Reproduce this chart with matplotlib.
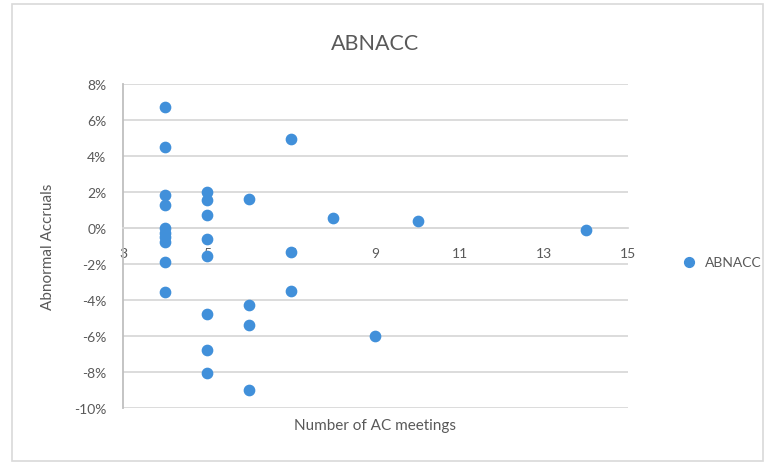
import numpy as np
import matplotlib.pyplot as plt
from matplotlib.patches import Rectangle
from matplotlib.ticker import FuncFormatter

# number of AC meetings and abnormal accruals (in %)
meetings = [4, 4, 4, 4, 4, 4, 4, 4, 4, 4,
            5, 5, 5, 5, 5, 5, 5, 5,
            6, 6, 6, 6,
            7, 7, 7,
            8, 9, 10, 14]
abnacc = [6.75, 4.52, 1.85, 1.28, 0.02, -0.28, -0.5, -0.75, -1.9, -3.56,
          2.0, 1.55, 0.72, -0.63, -1.55, -4.76, -6.8, -8.04,
          1.59, -4.29, -5.39, -9.0,
          4.93, -1.31, -3.5,
          0.58, -6.0, 0.39, -0.11]

xticks = [3, 5, 7, 9, 11, 13, 15]
yticks = np.arange(-10, 9, 2)

plt.rcParams['font.family'] = ['Lato', 'DejaVu Sans']
grey = '#595959'
blue = '#4190DA'

fig = plt.figure(figsize=(7.65, 4.64), dpi=100)
fig.patches.append(Rectangle((12/765, 2/464), 751/765, 457/464, transform=fig.transFigure,
                             fill=False, edgecolor='#D9D9D9', lw=1.2))

ax = fig.add_axes([123/765, 1 - 409/464, 505/765, 324/464])
ax.scatter(meetings, abnacc, s=55, color=blue, zorder=3, label='ABNACC')

ax.set_xlim(3, 15)
ax.set_ylim(-10, 8)
ax.set_xticks(xticks)
ax.set_yticks(yticks)
ax.yaxis.set_major_formatter(FuncFormatter(lambda v, p: '%d%%' % v))

ax.grid(axis='y', color='#D9D9D9', lw=1.3)
ax.set_axisbelow(True)
for s in ['top', 'right']:
    ax.spines[s].set_visible(False)
ax.spines['left'].set_color('#BFBFBF')
ax.spines['left'].set_linewidth(1.3)
ax.spines['bottom'].set_position(('data', 0))
ax.spines['bottom'].set_color('#D9D9D9')
ax.spines['bottom'].set_linewidth(1.3)
ax.tick_params(axis='x', length=0, pad=14, labelsize=10, labelcolor=grey)
ax.tick_params(axis='y', length=0, pad=12, labelsize=10, labelcolor=grey)

ax.set_title('ABNACC', fontsize=15.5, color=grey, pad=25)
fig.text(375/765, 1 - 426/464, 'Number of AC meetings', ha='center', va='center',
         fontsize=11, color=grey)
fig.text(48/765, 1 - 247/464, 'Abnormal Accruals', ha='center', va='center',
         rotation=90, fontsize=11, color=grey)

fig.legend(loc='center left', bbox_to_anchor=(663/765, 1 - 263/464), frameon=False,
           handletextpad=0.1, fontsize=10, labelcolor=grey, markerscale=0.95)

plt.savefig('out.png', dpi=100)
